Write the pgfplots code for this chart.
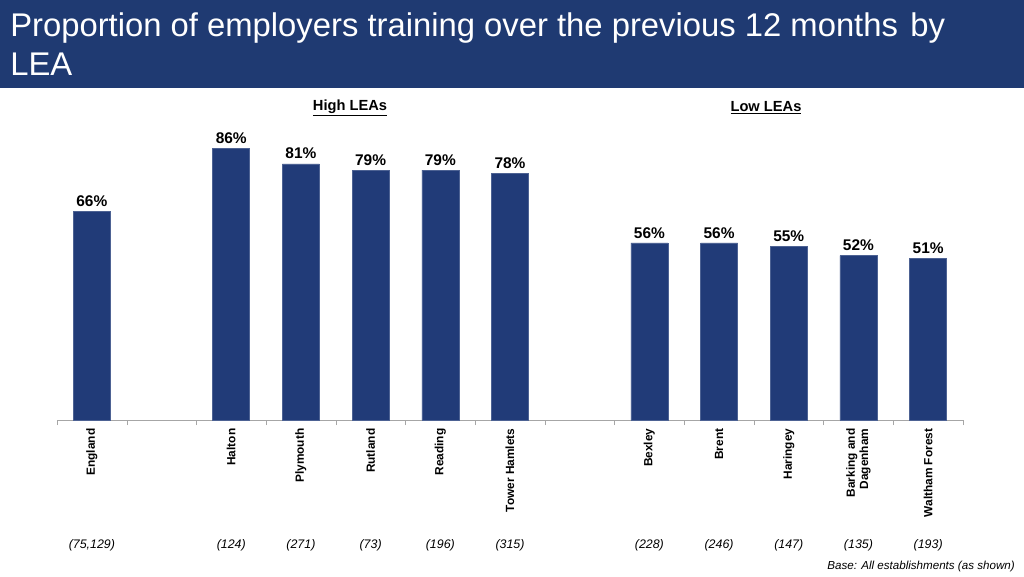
\documentclass[border=0pt]{standalone}
\usepackage{fontspec}
\setmainfont{Liberation Sans}
\usepackage{pgfplots}
\pgfplotsset{compat=1.18}
\definecolor{banner}{HTML}{1F3A72}
\definecolor{barblue}{HTML}{213B78}
\tikzset{basesize/.style={yshift=-93.75pt, font=\itshape\fontsize{9.3}{11}\selectfont}}
\begin{document}
\begin{tikzpicture}
% frame and texts, in pixel units of the 1024x576 slide
\begin{scope}[x=0.75pt,y=-0.75pt]
\fill[white] (0,0) rectangle (1024,576);
\fill[banner] (0,0) rectangle (1024,88);
\node[anchor=base west, text=white, inner sep=0, font=\fontsize{24.6}{28}\selectfont] at (10,36)
  {Proportion of employers training over the previous 12 months};
\node[anchor=base west, text=white, inner sep=0, font=\fontsize{24.6}{28}\selectfont] at (910,36) {by};
\node[anchor=base west, text=white, inner sep=0, font=\fontsize{24.6}{28}\selectfont] at (10,75) {LEA};
\node[font=\bfseries\fontsize{11}{12}\selectfont] at (350,108) {\underline{High LEAs}};
\node[font=\bfseries\fontsize{11}{12}\selectfont] at (766,108) {\underline{Low LEAs}};
\node[anchor=base east, inner sep=0, font=\itshape\fontsize{8.7}{10}\selectfont] at (1015,569)
  {Base: All establishments (as shown)};
\end{scope}
\begin{axis}[
  at={(42.75pt,-315pt)}, anchor=south west,
  scale only axis, width=679.5pt, height=237.2pt,
  ymin=0, ymax=100, xmin=-0.5, xmax=12.5,
  hide y axis, axis x line*=bottom,
  x axis line style={-, draw=gray!70},
  ybar, bar width=27.75pt,
  clip=false,
  xtick={0,2,3,4,5,6,8,9,10,11,12},
  xticklabels={England,Halton,Plymouth,Rutland,Reading,Tower Hamlets,Bexley,Brent,Haringey,{Barking and\\Dagenham},Waltham Forest},
  major tick length=0pt,
  minor xtick={-0.5,0.5,...,12.5},
  minor tick length=3.75pt,
  tick align=outside,
  minor tick style={draw=gray!70},
  xticklabel style={rotate=90, anchor=east, align=right, xshift=-3pt,
    font=\bfseries\fontsize{8.9}{10}\selectfont},
  /pgf/number format/assume math mode=true,
  nodes near coords={\pgfmathprintnumber{\pgfplotspointmeta}\%},
  every node near coord/.append style={font=\bfseries\fontsize{11.6}{13}\selectfont, black},
]
\addplot[fill=barblue, draw=barblue!80!white] coordinates {
  (0,66) (2,86) (3,81) (4,79) (5,79) (6,78)
  (8,56) (9,56) (10,55) (11,52) (12,51)
};
% base sizes
\node[basesize] at (axis cs:0,0) {(75,129)};
\node[basesize] at (axis cs:2,0) {(124)};
\node[basesize] at (axis cs:3,0) {(271)};
\node[basesize] at (axis cs:4,0) {(73)};
\node[basesize] at (axis cs:5,0) {(196)};
\node[basesize] at (axis cs:6,0) {(315)};
\node[basesize] at (axis cs:8,0) {(228)};
\node[basesize] at (axis cs:9,0) {(246)};
\node[basesize] at (axis cs:10,0) {(147)};
\node[basesize] at (axis cs:11,0) {(135)};
\node[basesize] at (axis cs:12,0) {(193)};
\end{axis}
\end{tikzpicture}
\end{document}
